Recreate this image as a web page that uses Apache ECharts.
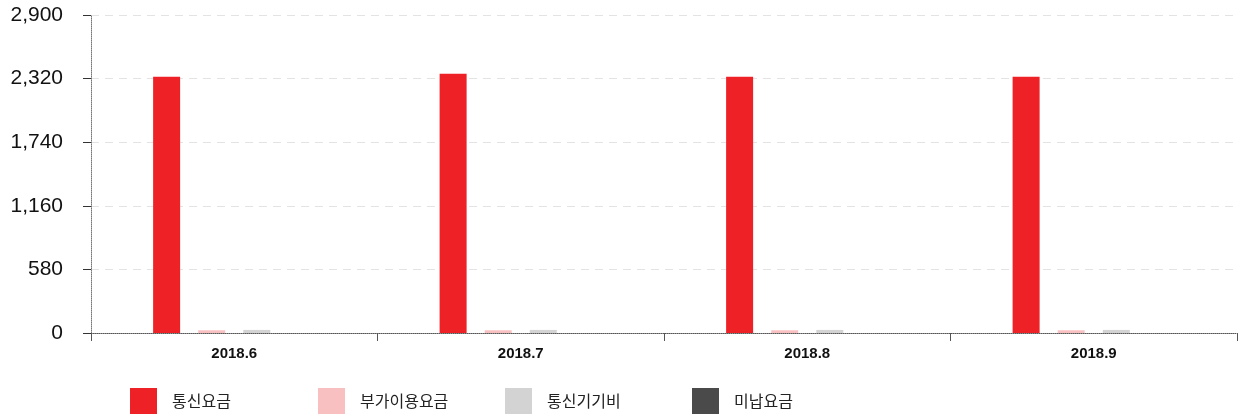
<!DOCTYPE html>
<html>
<head>
<meta charset="utf-8">
<script src="https://cdn.jsdelivr.net/npm/echarts@6/dist/echarts.min.js"></script>
<style>
  html, body { margin: 0; padding: 0; background: #fff; }
  #chart { width: 1244px; height: 417px; }
</style>
</head>
<body>
<div id="chart"></div>
<script>
// Chart data
const months = ['2018.6', '2018.7', '2018.8', '2018.9'];
const seriesNames = ['통신요금', '부가이용요금', '통신기기비', '미납요금'];
const telecomFee = [2338, 2365, 2338, 2338];
const extraFee = [25, 25, 25, 25];
const deviceFee = [28, 28, 28, 28];
const unpaidFee = [0, 0, 0, 0];
const colors = ['#ee2127', '#f8c0c0', '#d3d3d3', '#4a4a4a'];

const chart = echarts.init(document.getElementById('chart'));

const seriesData = [telecomFee, extraFee, deviceFee, unpaidFee];
const legendLeft = [130, 318, 505, 692];

chart.setOption({
  animation: false,
  color: colors,
  grid: { left: 91, right: 7, top: 15, bottom: 84 },
  // one legend per item so the spacing stays fixed
  legend: seriesNames.map((name, i) => ({
    left: legendLeft[i],
    top: 388,
    padding: 0,
    itemWidth: 27,
    itemHeight: 26,
    icon: 'rect',
    data: [name],
    textStyle: {
      fontFamily: '"Noto Sans CJK KR", sans-serif',
      fontSize: 16,
      color: '#222',
      padding: [0, 0, 0, 10]
    }
  })),
  xAxis: {
    type: 'category',
    data: months,
    axisLine: { lineStyle: { color: '#555', type: 'dotted', width: 1 } },
    axisTick: { show: true, length: 8, lineStyle: { color: '#555' } },
    axisLabel: {
      color: '#111',
      fontWeight: 'bold',
      fontSize: 15,
      fontFamily: '"Liberation Sans", Arial, sans-serif',
      margin: 13
    }
  },
  yAxis: {
    type: 'value',
    min: 0,
    max: 2900,
    interval: 580,
    axisLine: { show: true, lineStyle: { color: '#777', type: 'dotted' } },
    axisTick: { show: true, length: 8, lineStyle: { color: '#333' } },
    axisLabel: {
      color: '#111',
      fontSize: 21,
      fontFamily: '"Liberation Sans", Arial, sans-serif',
      margin: 28,
      formatter: v => v.toLocaleString('en-US')
    },
    splitLine: { lineStyle: { color: '#e3e3e3', type: [8, 6] } }
  },
  series: seriesNames.map((name, i) => ({
    name,
    type: 'bar',
    data: seriesData[i],
    barWidth: 27,
    barGap: '67%'
  }))
});
</script>
</body>
</html>
